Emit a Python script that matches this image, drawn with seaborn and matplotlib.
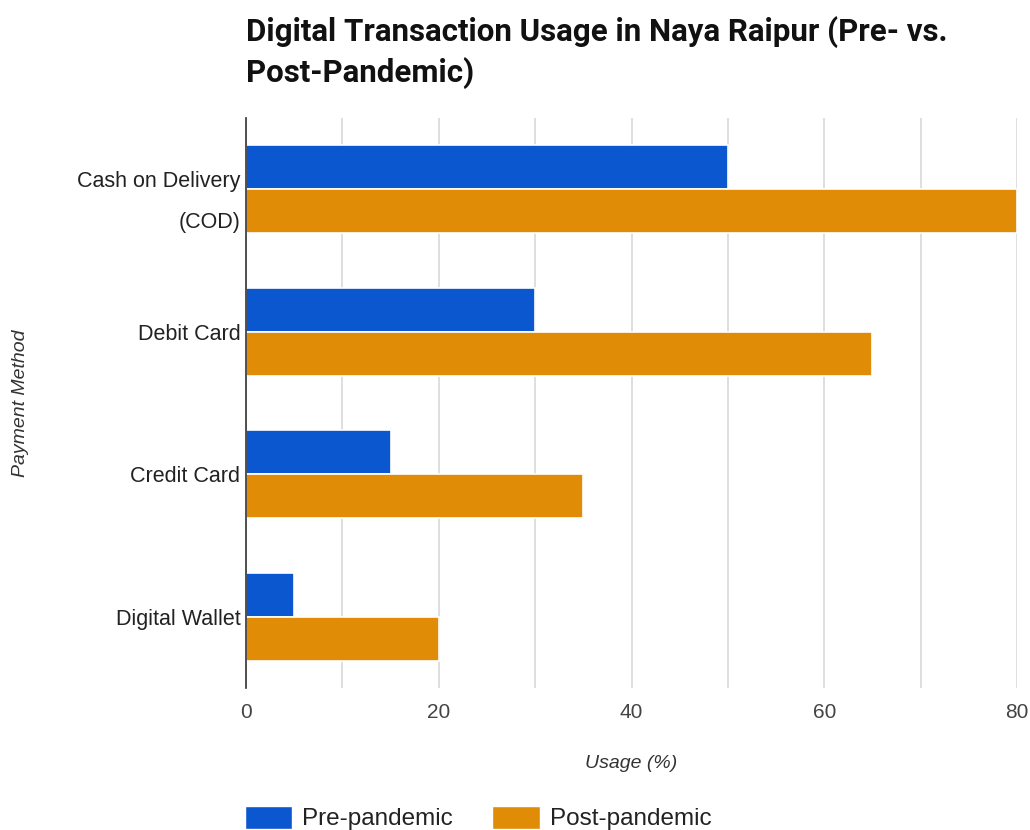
import matplotlib
matplotlib.use("Agg")
import matplotlib.pyplot as plt
import seaborn as sns
import pandas as pd
from matplotlib.patches import Patch

categories = ["Cash on Delivery\n(COD)", "Debit Card", "Credit Card", "Digital Wallet"]
pre_pandemic = [50, 30, 15, 5]
post_pandemic = [80, 65, 35, 20]
series_names = ["Pre-pandemic", "Post-pandemic"]
x_ticks = [0, 20, 40, 60, 80]

df = pd.DataFrame({
    "Payment Method": categories * 2,
    "Usage": pre_pandemic + post_pandemic,
    "Period": [series_names[0]] * len(categories) + [series_names[1]] * len(categories),
})

sns.set_theme(style="white")
plt.rcParams["font.family"] = ["Liberation Sans", "DejaVu Sans"]

fig = plt.figure(figsize=(10.3, 8.3), dpi=100)
ax = fig.add_axes([246 / 1030, 1 - 688 / 830, (1017 - 246) / 1030, (688 - 118) / 830])

palette = {"Pre-pandemic": "#0b57d0", "Post-pandemic": "#e08c06"}
sns.barplot(data=df, y="Payment Method", x="Usage", hue="Period", orient="h",
            palette=palette, width=0.62, saturation=1, edgecolor="white", linewidth=1.2,
            ax=ax, legend=False)

ax.set_xlim(0, 80)
ax.set_xticks(x_ticks)
ax.set_xticks(range(10, 81, 20), minor=True)
ax.grid(axis="x", which="both", color="#d9d9d9", linewidth=1.2)
ax.set_axisbelow(True)
for s in ["top", "right", "bottom"]:
    ax.spines[s].set_visible(False)
ax.spines["left"].set_color("#333333")
ax.spines["left"].set_linewidth(1.2)
ax.spines["left"].set_zorder(5)

ax.tick_params(axis="x", which="both", length=0, pad=11, labelsize=15, labelcolor="#444444")
ax.tick_params(axis="y", length=0, pad=4, labelsize=15.5, labelcolor="#222222")
for lbl in ax.get_yticklabels():
    lbl.set_horizontalalignment("right")
    lbl.set_multialignment("right")
    if "\n" in lbl.get_text():
        lbl.set_linespacing(2.25)

ax.set_xlabel("Usage (%)", fontsize=14, style="italic", color="#333333", labelpad=0)
ax.xaxis.set_label_coords(0.5, -(763 - 688) / (688 - 118))
ax.xaxis.label.set_va("center")
ax.set_ylabel("Payment Method", fontsize=14, style="italic", color="#333333", labelpad=0)
ax.yaxis.set_label_coords(-(246 - 21) / (1017 - 246), 0.5)
ax.yaxis.label.set_va("center")

fig.text(246 / 1030, 1 - 16 / 830, "Digital Transaction Usage in Naya Raipur (Pre- vs.\nPost-Pandemic)",
         fontsize=22.5, fontweight="bold", color="#111111", ha="left", va="top", linespacing=1.38,
         family=["Roboto", "DejaVu Sans"])

handles = [Patch(facecolor=palette[n], label=n) for n in series_names]
fig.legend(handles=handles, loc="center left", bbox_to_anchor=(223 / 1030, 1 - 818 / 830),
           ncol=2, frameon=False, fontsize=17.5, handlelength=1.95, handleheight=1.1,
           handletextpad=0.42, columnspacing=1.6, labelcolor="#222222")

fig.savefig("out.png", dpi=100)
